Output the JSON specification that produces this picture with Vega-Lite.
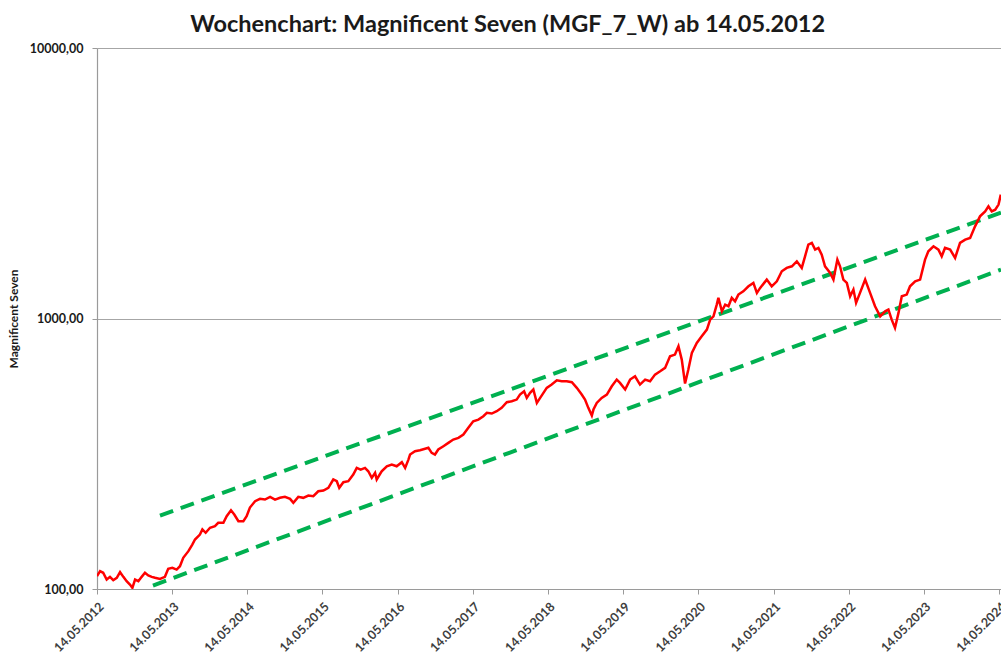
{
  "$schema": "https://vega.github.io/schema/vega-lite/v6.json",
  "autosize": "none",
  "width": 904,
  "height": 541,
  "padding": {"left": 97, "top": 48, "right": 0, "bottom": 66},
  "background": "white",
  "title": {
    "text": "Wochenchart: Magnificent Seven (MGF_7_W) ab 14.05.2012",
    "font": "Lato",
    "fontSize": 23.5,
    "fontWeight": "bold",
    "color": "#1a1a1a",
    "anchor": "middle",
    "frame": "bounds",
    "offset": 6
  },
  "config": {
    "view": {"stroke": null},
    "axis": {"labelFont": "Lato", "titleFont": "Lato"}
  },
  "datasets": {
    "kurs": [
      {"date": "2012-05-14", "value": 111.5},
      {"date": "2012-05-29", "value": 116.4},
      {"date": "2012-06-13", "value": 114.8},
      {"date": "2012-06-30", "value": 108.4},
      {"date": "2012-07-16", "value": 110.9},
      {"date": "2012-08-01", "value": 107.8},
      {"date": "2012-08-18", "value": 110.0},
      {"date": "2012-09-03", "value": 115.4},
      {"date": "2012-09-19", "value": 110.9},
      {"date": "2012-10-05", "value": 106.9},
      {"date": "2012-10-21", "value": 103.9},
      {"date": "2012-11-02", "value": 101.0},
      {"date": "2012-11-15", "value": 108.4},
      {"date": "2012-12-01", "value": 106.9},
      {"date": "2012-12-17", "value": 110.9},
      {"date": "2013-01-02", "value": 114.8},
      {"date": "2013-01-18", "value": 112.2},
      {"date": "2013-02-04", "value": 110.9},
      {"date": "2013-02-20", "value": 110.0},
      {"date": "2013-03-16", "value": 109.0},
      {"date": "2013-04-09", "value": 110.9},
      {"date": "2013-04-25", "value": 118.8},
      {"date": "2013-05-15", "value": 119.8},
      {"date": "2013-06-05", "value": 118.0},
      {"date": "2013-06-21", "value": 121.4},
      {"date": "2013-07-07", "value": 130.4},
      {"date": "2013-08-01", "value": 138.0},
      {"date": "2013-08-20", "value": 146.0},
      {"date": "2013-09-02", "value": 152.4},
      {"date": "2013-09-26", "value": 159.0},
      {"date": "2013-10-08", "value": 166.0},
      {"date": "2013-10-24", "value": 161.4},
      {"date": "2013-11-14", "value": 168.4},
      {"date": "2013-12-08", "value": 170.7},
      {"date": "2013-12-24", "value": 175.7},
      {"date": "2014-01-18", "value": 175.7},
      {"date": "2014-02-03", "value": 185.8},
      {"date": "2014-02-24", "value": 195.5},
      {"date": "2014-03-12", "value": 188.5},
      {"date": "2014-04-01", "value": 178.1},
      {"date": "2014-04-25", "value": 178.1},
      {"date": "2014-05-11", "value": 185.8},
      {"date": "2014-05-27", "value": 200.1},
      {"date": "2014-06-21", "value": 211.1},
      {"date": "2014-07-15", "value": 215.4},
      {"date": "2014-08-08", "value": 214.1},
      {"date": "2014-09-02", "value": 219.1},
      {"date": "2014-09-26", "value": 214.1},
      {"date": "2014-10-20", "value": 217.3},
      {"date": "2014-11-13", "value": 219.1},
      {"date": "2014-12-08", "value": 215.4},
      {"date": "2014-12-24", "value": 208.2},
      {"date": "2015-01-17", "value": 219.1},
      {"date": "2015-02-10", "value": 217.3},
      {"date": "2015-03-07", "value": 221.6},
      {"date": "2015-03-31", "value": 220.3},
      {"date": "2015-04-24", "value": 229.8},
      {"date": "2015-05-19", "value": 231.2},
      {"date": "2015-06-12", "value": 236.6},
      {"date": "2015-07-06", "value": 254.0},
      {"date": "2015-07-23", "value": 250.3},
      {"date": "2015-08-04", "value": 236.6},
      {"date": "2015-08-24", "value": 248.2},
      {"date": "2015-09-17", "value": 250.3},
      {"date": "2015-10-11", "value": 264.9},
      {"date": "2015-10-28", "value": 280.4},
      {"date": "2015-11-16", "value": 276.4},
      {"date": "2015-12-07", "value": 280.4},
      {"date": "2015-12-23", "value": 272.4},
      {"date": "2016-01-09", "value": 257.6},
      {"date": "2016-01-25", "value": 268.8},
      {"date": "2016-02-02", "value": 254.0},
      {"date": "2016-02-26", "value": 272.4},
      {"date": "2016-03-22", "value": 284.3},
      {"date": "2016-04-15", "value": 288.5},
      {"date": "2016-05-09", "value": 284.3},
      {"date": "2016-06-03", "value": 294.2},
      {"date": "2016-06-19", "value": 280.4},
      {"date": "2016-07-05", "value": 300.9},
      {"date": "2016-07-13", "value": 314.1},
      {"date": "2016-08-06", "value": 323.1},
      {"date": "2016-08-30", "value": 325.8},
      {"date": "2016-09-24", "value": 329.8},
      {"date": "2016-10-10", "value": 332.6},
      {"date": "2016-10-26", "value": 318.7},
      {"date": "2016-11-11", "value": 314.1},
      {"date": "2016-11-27", "value": 327.8},
      {"date": "2016-12-22", "value": 337.2},
      {"date": "2017-01-15", "value": 346.9},
      {"date": "2017-02-08", "value": 356.8},
      {"date": "2017-03-05", "value": 362.1},
      {"date": "2017-03-29", "value": 372.4},
      {"date": "2017-04-22", "value": 394.2},
      {"date": "2017-05-16", "value": 417.0},
      {"date": "2017-06-10", "value": 423.0},
      {"date": "2017-07-04", "value": 435.1},
      {"date": "2017-07-21", "value": 447.8},
      {"date": "2017-08-14", "value": 445.2},
      {"date": "2017-09-07", "value": 454.1},
      {"date": "2017-10-01", "value": 467.4},
      {"date": "2017-10-26", "value": 490.2},
      {"date": "2017-11-19", "value": 494.3},
      {"date": "2017-12-13", "value": 501.5},
      {"date": "2017-12-29", "value": 523.3},
      {"date": "2018-01-18", "value": 538.3},
      {"date": "2018-01-31", "value": 508.8},
      {"date": "2018-02-16", "value": 530.9},
      {"date": "2018-03-04", "value": 546.3},
      {"date": "2018-03-21", "value": 487.6},
      {"date": "2018-04-06", "value": 508.8},
      {"date": "2018-04-22", "value": 530.9},
      {"date": "2018-05-08", "value": 554.2},
      {"date": "2018-06-01", "value": 569.9},
      {"date": "2018-06-26", "value": 591.1},
      {"date": "2018-07-20", "value": 586.1},
      {"date": "2018-08-13", "value": 586.1},
      {"date": "2018-09-07", "value": 581.1},
      {"date": "2018-10-01", "value": 554.2},
      {"date": "2018-10-25", "value": 523.3},
      {"date": "2018-11-10", "value": 501.5},
      {"date": "2018-11-26", "value": 467.4},
      {"date": "2018-12-13", "value": 437.7},
      {"date": "2018-12-21", "value": 460.7},
      {"date": "2019-01-06", "value": 487.6},
      {"date": "2019-01-30", "value": 508.8},
      {"date": "2019-02-24", "value": 523.3},
      {"date": "2019-03-20", "value": 561.8},
      {"date": "2019-04-13", "value": 594.6},
      {"date": "2019-04-29", "value": 578.1},
      {"date": "2019-05-24", "value": 546.3},
      {"date": "2019-06-17", "value": 594.6},
      {"date": "2019-07-11", "value": 611.5},
      {"date": "2019-08-04", "value": 569.9},
      {"date": "2019-08-29", "value": 594.6},
      {"date": "2019-09-22", "value": 586.1},
      {"date": "2019-10-16", "value": 620.4},
      {"date": "2019-11-10", "value": 638.1},
      {"date": "2019-12-04", "value": 656.8},
      {"date": "2019-12-28", "value": 724.9},
      {"date": "2020-01-21", "value": 735.5},
      {"date": "2020-02-07", "value": 789.3},
      {"date": "2020-02-23", "value": 704.8},
      {"date": "2020-03-10", "value": 574.7},
      {"date": "2020-03-26", "value": 647.4},
      {"date": "2020-04-12", "value": 746.3},
      {"date": "2020-05-06", "value": 812.4},
      {"date": "2020-05-30", "value": 859.4},
      {"date": "2020-06-24", "value": 910.0},
      {"date": "2020-07-10", "value": 990.6},
      {"date": "2020-07-26", "value": 1018.8},
      {"date": "2020-08-11", "value": 1125.6},
      {"date": "2020-08-19", "value": 1191.9},
      {"date": "2020-09-05", "value": 1063.2},
      {"date": "2020-09-21", "value": 1125.6},
      {"date": "2020-10-07", "value": 1109.4},
      {"date": "2020-10-23", "value": 1191.9},
      {"date": "2020-11-08", "value": 1157.5},
      {"date": "2020-11-24", "value": 1225.8},
      {"date": "2020-12-18", "value": 1260.7},
      {"date": "2021-01-12", "value": 1315.2},
      {"date": "2021-02-05", "value": 1354.0},
      {"date": "2021-02-22", "value": 1243.6},
      {"date": "2021-03-10", "value": 1297.4},
      {"date": "2021-04-11", "value": 1392.5},
      {"date": "2021-05-05", "value": 1315.2},
      {"date": "2021-05-30", "value": 1372.6},
      {"date": "2021-06-23", "value": 1494.6},
      {"date": "2021-07-17", "value": 1538.2},
      {"date": "2021-08-11", "value": 1559.3},
      {"date": "2021-09-04", "value": 1627.1},
      {"date": "2021-09-28", "value": 1538.2},
      {"date": "2021-10-14", "value": 1698.0},
      {"date": "2021-10-30", "value": 1875.6},
      {"date": "2021-11-16", "value": 1903.0},
      {"date": "2021-12-02", "value": 1797.3},
      {"date": "2021-12-18", "value": 1823.6},
      {"date": "2022-01-03", "value": 1722.3},
      {"date": "2022-01-19", "value": 1559.3},
      {"date": "2022-02-13", "value": 1474.4},
      {"date": "2022-03-01", "value": 1392.5},
      {"date": "2022-03-20", "value": 1651.0},
      {"date": "2022-04-02", "value": 1559.3},
      {"date": "2022-04-18", "value": 1392.5},
      {"date": "2022-05-05", "value": 1354.0},
      {"date": "2022-05-21", "value": 1207.9},
      {"date": "2022-06-06", "value": 1279.3},
      {"date": "2022-06-19", "value": 1142.0},
      {"date": "2022-07-08", "value": 1243.6},
      {"date": "2022-08-02", "value": 1392.5},
      {"date": "2022-08-26", "value": 1243.6},
      {"date": "2022-09-19", "value": 1109.4},
      {"date": "2022-10-14", "value": 1018.8},
      {"date": "2022-11-07", "value": 1063.2},
      {"date": "2022-11-23", "value": 1078.7},
      {"date": "2022-12-09", "value": 990.6},
      {"date": "2022-12-25", "value": 923.3},
      {"date": "2023-01-11", "value": 1048.8},
      {"date": "2023-01-27", "value": 1207.9},
      {"date": "2023-02-20", "value": 1225.8},
      {"date": "2023-03-08", "value": 1315.2},
      {"date": "2023-04-02", "value": 1372.6},
      {"date": "2023-04-26", "value": 1392.5},
      {"date": "2023-05-20", "value": 1651.0},
      {"date": "2023-06-05", "value": 1771.5},
      {"date": "2023-06-30", "value": 1849.1},
      {"date": "2023-07-24", "value": 1797.3},
      {"date": "2023-08-09", "value": 1698.0},
      {"date": "2023-08-25", "value": 1823.6},
      {"date": "2023-09-19", "value": 1797.3},
      {"date": "2023-10-13", "value": 1674.9},
      {"date": "2023-11-06", "value": 1903.0},
      {"date": "2023-12-01", "value": 1956.1},
      {"date": "2023-12-25", "value": 1986.1},
      {"date": "2024-01-18", "value": 2191.4},
      {"date": "2024-02-11", "value": 2386.0},
      {"date": "2024-03-07", "value": 2490.0},
      {"date": "2024-03-23", "value": 2598.2},
      {"date": "2024-04-08", "value": 2490.0},
      {"date": "2024-04-25", "value": 2525.8},
      {"date": "2024-05-11", "value": 2636.3},
      {"date": "2024-05-22", "value": 2870.4}
    ],
    "trend": [
      {"line": "oben", "date": "2013-03-16", "value": 186.9},
      {"line": "oben", "date": "2024-05-23", "value": 2462},
      {"line": "unten", "date": "2013-02-10", "value": 103.0},
      {"line": "unten", "date": "2024-05-23", "value": 1516}
    ]
  },
  "encoding": {
    "x": {
      "field": "date",
      "type": "temporal",
      "scale": {
        "type": "utc",
        "domain": [
          {"year": 2012, "month": 5, "date": 14, "utc": true},
          {"year": 2024, "month": 5, "date": 23, "utc": true}
        ]
      },
      "axis": {
        "title": null,
        "values": [
          {"year": 2012, "month": 5, "date": 14, "utc": true},
          {"year": 2013, "month": 5, "date": 14, "utc": true},
          {"year": 2014, "month": 5, "date": 14, "utc": true},
          {"year": 2015, "month": 5, "date": 14, "utc": true},
          {"year": 2016, "month": 5, "date": 14, "utc": true},
          {"year": 2017, "month": 5, "date": 14, "utc": true},
          {"year": 2018, "month": 5, "date": 14, "utc": true},
          {"year": 2019, "month": 5, "date": 14, "utc": true},
          {"year": 2020, "month": 5, "date": 14, "utc": true},
          {"year": 2021, "month": 5, "date": 14, "utc": true},
          {"year": 2022, "month": 5, "date": 14, "utc": true},
          {"year": 2023, "month": 5, "date": 14, "utc": true},
          {"year": 2024, "month": 5, "date": 14, "utc": true}
        ],
        "labelExpr": "utcFormat(datum.value, '%d.%m.%Y')",
        "labelAngle": -45,
        "labelFontSize": 12.5,
        "labelFontWeight": "bold",
        "labelColor": "#404040",
        "labelPadding": 6,
        "labelOverlap": false,
        "labelFlush": false,
        "grid": false,
        "domainColor": "#9a9a9a",
        "domainWidth": 1.2,
        "tickColor": "#9a9a9a",
        "tickSize": 5
      }
    },
    "y": {
      "field": "value",
      "type": "quantitative",
      "scale": {"type": "log", "domain": [100, 10000], "clamp": false},
      "axis": {
        "title": "Magnificent Seven",
        "titleFontSize": 12,
        "titleFontWeight": "bold",
        "titleColor": "#1a1a1a",
        "titlePadding": 9,
        "values": [100, 1000, 10000],
        "labelExpr": "replace(format(datum.value, '.2f'), '.', ',')",
        "labelFontSize": 12.5,
        "labelFontWeight": "bold",
        "labelColor": "#1a1a1a",
        "labelPadding": 9,
        "grid": true,
        "gridColor": "#a6a6a6",
        "gridWidth": 1.2,
        "domainColor": "#9a9a9a",
        "domainWidth": 1.2,
        "tickColor": "#9a9a9a",
        "tickSize": 5
      }
    }
  },
  "layer": [
    {
      "data": {"name": "trend"},
      "mark": {"type": "line", "color": "#00B050", "strokeWidth": 4, "strokeDash": [14, 8], "clip": true},
      "encoding": {"detail": {"field": "line"}}
    },
    {
      "data": {"name": "kurs"},
      "mark": {"type": "line", "color": "#FF0000", "strokeWidth": 2.5, "clip": true}
    }
  ]
}
